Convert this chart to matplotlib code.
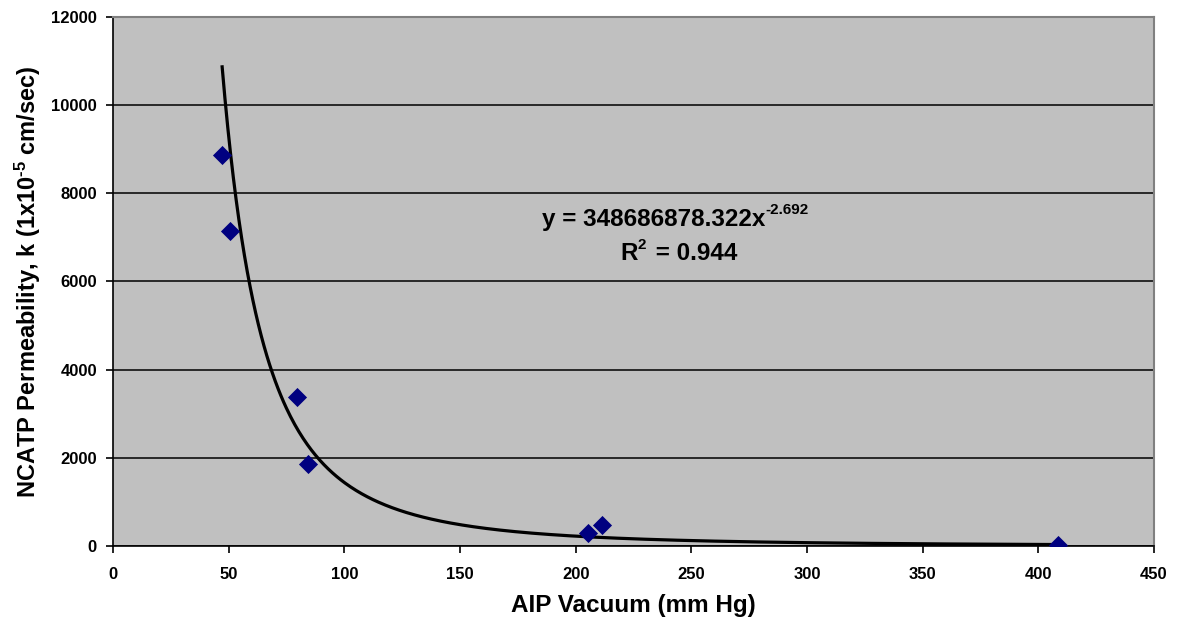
import numpy as np
import matplotlib.pyplot as plt

# measured points: AIP vacuum vs NCATP permeability
vacuum = [47.2, 50.6, 79.5, 84.3, 205.4, 211.4, 408.6]
permeability = [8860, 7140, 3390, 1870, 300, 470, 30]

# power trendline from the chart
coef = 348686878.322
expo = -2.692

xticks = [0, 50, 100, 150, 200, 250, 300, 350, 400, 450]
yticks = [0, 2000, 4000, 6000, 8000, 10000, 12000]

plt.rcParams['font.family'] = ['Liberation Sans', 'DejaVu Sans']
plt.rcParams['font.weight'] = 'bold'
plt.rcParams['mathtext.fontset'] = 'custom'
plt.rcParams['mathtext.rm'] = 'Liberation Sans:bold'
plt.rcParams['mathtext.bf'] = 'Liberation Sans:bold'
plt.rcParams['mathtext.default'] = 'bf'

fig = plt.figure(figsize=(11.79, 6.2), dpi=100)
ax = fig.add_axes([0.0958, 0.1194, 0.8830, 0.8532])
ax.set_facecolor('#C0C0C0')

# trendline
xf = np.linspace(min(vacuum), max(vacuum), 600)
ax.plot(xf, coef * xf ** expo, color='black', lw=2.3, zorder=3)

# data
ax.scatter(vacuum, permeability, marker='D', s=95, color='#000080', zorder=4, linewidths=0)

ax.set_xlim(0, 450)
ax.set_ylim(0, 12000)
ax.set_xticks(xticks)
ax.set_yticks(yticks)
ax.yaxis.grid(True, color='black', lw=1.1)
ax.set_axisbelow(True)

for s in ['top', 'right']:
    ax.spines[s].set_color('#808080')
    ax.spines[s].set_linewidth(1.5)
for s in ['left', 'bottom']:
    ax.spines[s].set_color('black')
    ax.spines[s].set_linewidth(1.2)

ax.tick_params(direction='out', length=5, width=1.2, labelsize=12, pad=10)
ax.tick_params(axis='y', pad=6.5)
for lab in ax.get_xticklabels() + ax.get_yticklabels():
    lab.set_fontweight('bold')

ax.set_xlabel('AIP Vacuum (mm Hg)', fontsize=17.5, fontweight='bold', labelpad=9)
ax.set_ylabel('NCATP Permeability, k (1x10$^{\u20105}$ cm/sec)', fontsize=17,
              fontweight='bold', labelpad=6)

# trendline equation, superscripts as small offset text
eq = ax.text(0.519, 0.618, 'y = 348686878.322x', transform=ax.transAxes,
             fontsize=17.5, fontweight='bold', ha='center', va='center')
ax.annotate('-2.692', xy=(1, 0.9), xycoords=eq, fontsize=11, fontweight='bold',
            ha='left', va='center')
r2 = ax.text(0.504, 0.552, 'R', transform=ax.transAxes, fontsize=17.5,
             fontweight='bold', ha='right', va='center')
sup = ax.annotate('2', xy=(1, 0.9), xycoords=r2, fontsize=11, fontweight='bold',
                  ha='left', va='center')
ax.annotate(' = 0.944', xy=(1, 0.5), xycoords=r2, xytext=(8, 0), textcoords='offset points',
            fontsize=17.5, fontweight='bold', ha='left', va='center')

fig.savefig('out.png', dpi=100)
